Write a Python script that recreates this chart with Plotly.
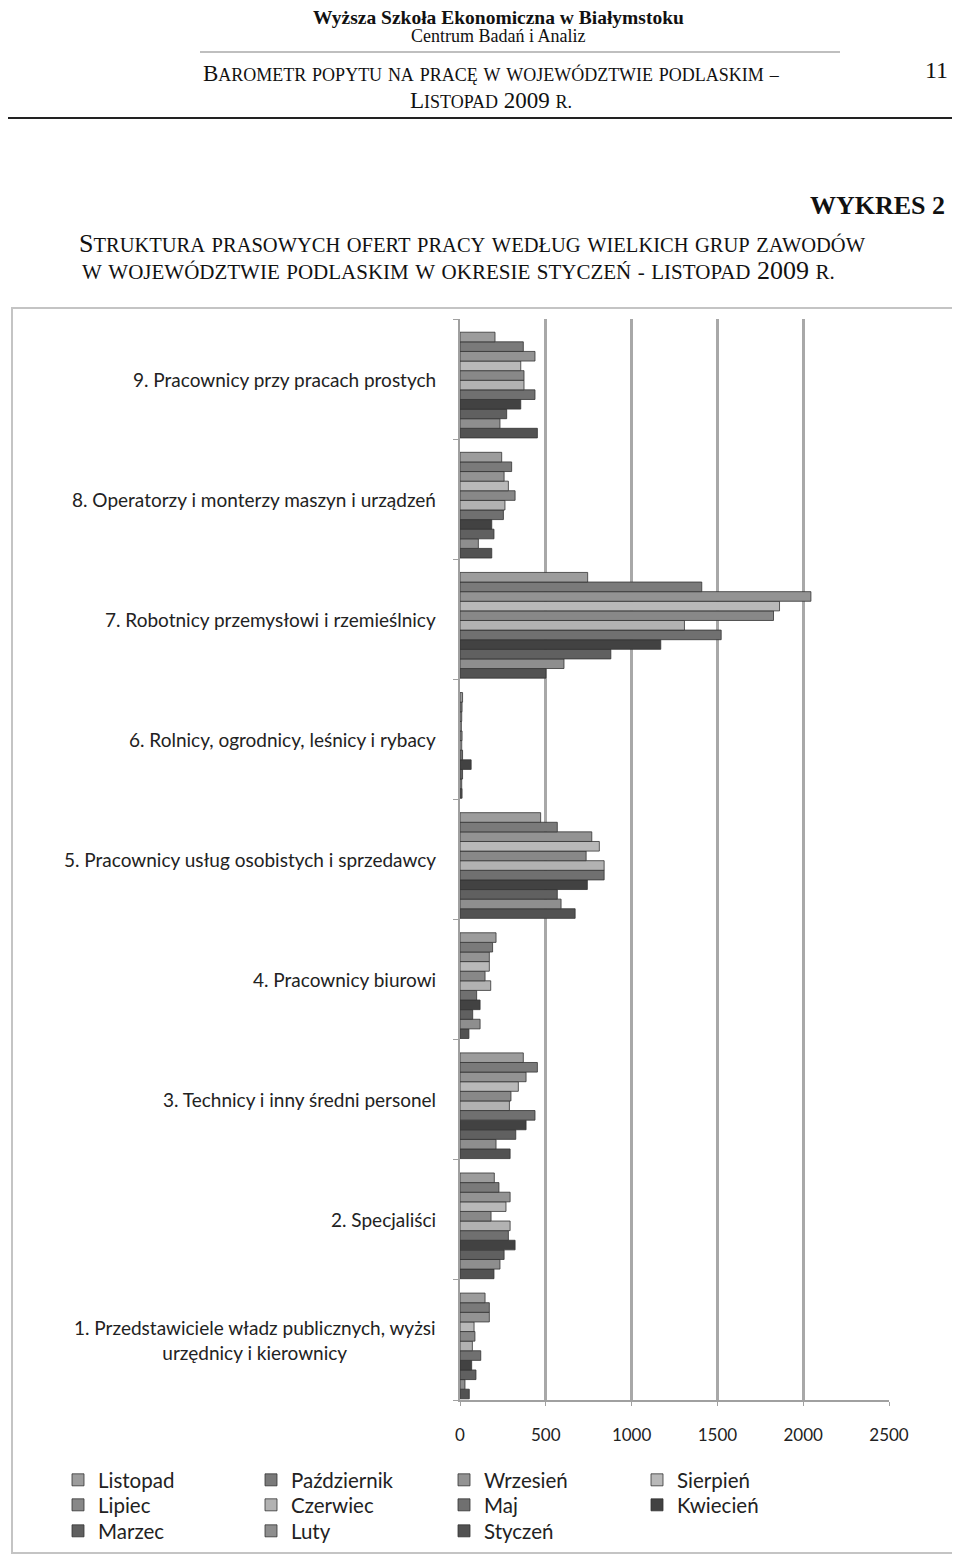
import plotly.graph_objects as go

# series, in legend order (top bar of each group = Listopad)
months = ["Listopad", "Październik", "Wrzesień", "Sierpień", "Lipiec", "Czerwiec",
          "Maj", "Kwiecień", "Marzec", "Luty", "Styczeń"]
month_colors = ["#9c9c9c", "#7a7a7a", "#939393", "#b9b9b9", "#888888", "#b2b2b2",
                "#707070", "#424242", "#606060", "#8e8e8e", "#525252"]

categories = [
    "1. Przedstawiciele władz publicznych, wyżsi<br>urzędnicy i kierownicy",
    "2. Specjaliści",
    "3. Technicy i inny średni personel",
    "4. Pracownicy biurowi",
    "5. Pracownicy usług osobistych i sprzedawcy",
    "6. Rolnicy, ogrodnicy, leśnicy i rybacy",
    "7. Robotnicy przemysłowi i rzemieślnicy",
    "8. Operatorzy i monterzy maszyn i urządzeń",
    "9. Pracownicy przy pracach prostych",
]

# offers per group, values in month order (Listopad ... Styczeń)
grp1 = [146, 171, 171, 82, 87, 72, 121, 68, 93, 29, 54]
grp2 = [200, 227, 292, 268, 181, 292, 282, 321, 257, 233, 198]
grp3 = [369, 451, 385, 340, 297, 288, 437, 385, 325, 210, 292]
grp4 = [210, 190, 171, 171, 146, 179, 97, 117, 74, 117, 52]
grp5 = [470, 567, 768, 812, 735, 840, 840, 742, 567, 589, 671]
grp6 = [15, 12, 10, 8, 12, 10, 15, 65, 15, 10, 12]
grp7 = [744, 1409, 2045, 1862, 1827, 1308, 1522, 1170, 879, 606, 501]
grp8 = [243, 301, 257, 282, 321, 262, 253, 185, 198, 107, 185]
grp9 = [204, 369, 437, 354, 373, 373, 437, 354, 272, 233, 451]
groups = [grp1, grp2, grp3, grp4, grp5, grp6, grp7, grp8, grp9]

x_ticks = [0, 500, 1000, 1500, 2000, 2500]

# the page puts the figure 8px in from the top-left corner; keep it a bit
# taller than the window so the bottom legend row is not pushed by automargin
OFF = 8
W, H = 960 - OFF, 1555
L, R, T, B = 452, 71, 311, 163


def px(x):
    return (x - OFF - L) / (W - L - R)


def py(y):
    return (H - B - (y - OFF)) / (H - T - B)


legend_rows = ["legend"] * 4 + ["legend2"] * 4 + ["legend3"] * 3

# the 3D-look original sits each cluster a little low in its slot
bar_w = 0.08
cluster_top = 0.39

fig = go.Figure()

for i in reversed(range(len(months))):
    fig.add_trace(go.Bar(
        y=categories,
        x=[g[i] for g in groups],
        name=months[i],
        orientation="h",
        width=bar_w,
        offset=cluster_top - (i + 1) * bar_w,
        legend=legend_rows[i],
        legendrank=i + 1,
        marker=dict(color=month_colors[i], line=dict(color="#333333", width=0.8)),
    ))

sans = "Lato"
serif = "Liberation Serif"

annotations = []
for c in categories:
    annotations.append(dict(
        x=px(438), xref="paper", y=c, yref="y", text=c, showarrow=False,
        xanchor="right", align="center", font=dict(family=sans, size=19, color="#222")))


def small_caps(words, big, small):
    parts = []
    for w, cap in words:
        if cap:
            parts.append(f'<span style="font-size:{big}px">{w[0]}</span>'
                         f'<span style="font-size:{small}px">{w[1:]}</span>')
        elif w[0].isdigit():
            parts.append(f'<span style="font-size:{big}px">{w}</span>')
        else:
            parts.append(f'<span style="font-size:{small}px">{w}</span>')
    return " ".join(parts)


def note(x, y, text, size, anchor="center", bold=False):
    if bold:
        text = "<b>" + text + "</b>"
    annotations.append(dict(x=px(x), y=py(y), xref="paper", yref="paper", text=text,
                            showarrow=False, xanchor=anchor, yanchor="middle",
                            font=dict(family=serif, size=size, color="#111")))


note(498, 17, "Wyższa Szkoła Ekonomiczna w Białymstoku", 19.5, bold=True)
note(498, 36, "Centrum Badań i Analiz", 18)
note(491, 73, small_caps([("BAROMETR", True), ("POPYTU", False), ("NA", False), ("PRACĘ", False),
                          ("W", False), ("WOJEWÓDZTWIE", False), ("PODLASKIM", False),
                          ("–", False)], 23, 18), 23)
note(491, 100, small_caps([("LISTOPAD", True), ("2009", False), ("R.", False)], 23, 18), 23)
note(950, 70, "11", 24, anchor="right")
note(947, 205, "WYKRES 2", 26, anchor="right", bold=True)
note(77, 243, small_caps([("STRUKTURA", True), ("PRASOWYCH", False), ("OFERT", False),
                          ("PRACY", False), ("WEDŁUG", False), ("WIELKICH", False),
                          ("GRUP", False), ("ZAWODÓW", False)], 26, 20.5), 26, anchor="left")
note(80, 270, small_caps([("W", False), ("WOJEWÓDZTWIE", False), ("PODLASKIM", False), ("W", False),
                          ("OKRESIE", False), ("STYCZEŃ", False), ("-", False),
                          ("LISTOPAD", False), ("2009", False), ("R.", False)], 26, 21),
     26, anchor="left")

shapes = [
    dict(type="line", xref="paper", yref="paper", x0=px(200), x1=px(840), y0=py(52), y1=py(52),
         line=dict(color="#aaaaaa", width=1.5)),
    dict(type="line", xref="paper", yref="paper", x0=px(0), x1=px(955), y0=py(118), y1=py(118),
         line=dict(color="#222222", width=2)),
    dict(type="rect", xref="paper", yref="paper", x0=px(12), x1=px(958), y0=py(308), y1=py(1553),
         line=dict(color="#c4c4c4", width=2), layer="below"),
]

legend_style = dict(
    orientation="h", xref="paper", yref="paper", x=px(58), xanchor="left", yanchor="middle",
    entrywidth=148, traceorder="normal", bgcolor="rgba(0,0,0,0)",
    font=dict(family=sans, size=20.5, color="#222"),
)

fig.update_layout(
    width=W, height=H,
    margin=dict(l=L, r=R, t=T, b=B),
    paper_bgcolor="white", plot_bgcolor="white",
    barmode="group",
    annotations=annotations, shapes=shapes,
    legend=dict(legend_style, y=py(1480)),
    legend2=dict(legend_style, y=py(1505)),
    legend3=dict(legend_style, y=py(1531)),
)
fig.update_xaxes(
    range=[0, 2500], tickvals=x_ticks, showgrid=True, gridcolor="#a8a8a8", gridwidth=2.5,
    zeroline=False, showline=True, linecolor="#a0a0a0", linewidth=2,
    ticks="outside", ticklen=4, tickcolor="#a0a0a0", ticklabelstandoff=15,
    tickfont=dict(family=sans, size=17, color="#222"),
)
fig.update_yaxes(
    categoryorder="array", categoryarray=categories, showticklabels=False,
    showline=True, linecolor="#a0a0a0", linewidth=2, ticks="outside", ticklen=5,
    tickcolor="#a0a0a0", tickson="boundaries", showgrid=False,
)

fig.write_html("out.html")
